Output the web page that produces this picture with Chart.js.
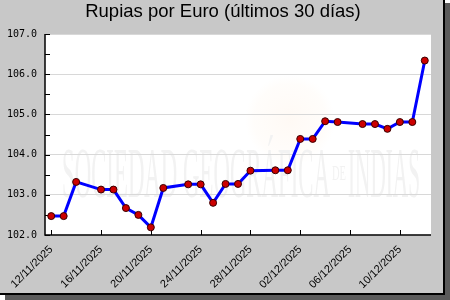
<!DOCTYPE html>
<html>
<head>
<meta charset="utf-8">
<script src="https://cdn.jsdelivr.net/npm/chart.js@4"></script>
<style>
html, body { margin: 0; padding: 0; background: #fff; }
#plot { display: block; }
</style>
</head>
<body>
<canvas id="plot" width="450" height="300"></canvas>
<script>
const titulo = 'Rupias por Euro (últimos 30 días)'

const fechas = [
    '12/11/2025', '13/11/2025', '14/11/2025', '16/11/2025', '17/11/2025', '18/11/2025',
    '19/11/2025', '20/11/2025', '21/11/2025', '23/11/2025', '24/11/2025', '25/11/2025',
    '26/11/2025', '27/11/2025', '28/11/2025', '30/11/2025', '01/12/2025', '02/12/2025',
    '03/12/2025', '04/12/2025', '05/12/2025', '07/12/2025', '08/12/2025', '09/12/2025',
    '10/12/2025', '11/12/2025', '12/12/2025'
]
const rupias = [
    102.47, 102.47, 103.32, 103.13, 103.13, 102.67,
    102.50, 102.19, 103.17, 103.26, 103.26, 102.80,
    103.27, 103.27, 103.60, 103.61, 103.61, 104.39,
    104.39, 104.83, 104.81, 104.76, 104.76, 104.64,
    104.81, 104.81, 106.34
]
const etiquetas = ['12/11/2025', '16/11/2025', '20/11/2025', '24/11/2025', '28/11/2025', '02/12/2025', '06/12/2025', '10/12/2025']
const yMin = 102
const yMax = 107

// dias desde la primera fecha
function dia (s) {
    const [d, m, y] = s.split('/').map(Number)
    const [d0, m0, y0] = fechas[0].split('/').map(Number)
    return (Date.UTC(y, m - 1, d) - Date.UTC(y0, m0 - 1, d0)) / 86400000
}

const marco = {
    id: 'marco',
    beforeDraw (chart) {
        const ctx = chart.ctx
        const a = chart.chartArea
        ctx.save()
        ctx.fillStyle = '#5a5a5a'
        ctx.fillRect(5, 3, 445, 297)
        ctx.fillStyle = '#c8c8c8'
        ctx.fillRect(0, 0, 443, 293)
        ctx.fillStyle = '#000'
        ctx.fillRect(443, 0, 2, 295)
        ctx.fillRect(0, 293, 445, 2)
        ctx.fillStyle = '#fff'
        ctx.fillRect(a.left, a.top, a.right - a.left, a.bottom - a.top)

        // marca de agua
        const g = ctx.createRadialGradient(290, 120, 0, 290, 120, 45)
        g.addColorStop(0, 'rgba(255,215,180,0.14)')
        g.addColorStop(0.8, 'rgba(255,225,195,0.08)')
        g.addColorStop(1, 'rgba(255,230,200,0)')
        ctx.fillStyle = g
        ctx.beginPath()
        ctx.arc(290, 120, 45, 0, Math.PI * 2)
        ctx.fill()

        ctx.fillStyle = '#f2f2f2'
        ctx.textBaseline = 'alphabetic'
        ctx.textAlign = 'left'
        const trozos = [
            ['SOCIEDAD GEOGRÁFICA', 62, 330, 72],
            ['DE', 332, 346, 22],
            ['INDIAS', 348, 420, 72]
        ]
        for (const [t, x0, x1, size] of trozos) {
            ctx.font = size + 'px "Liberation Serif"'
            const w = ctx.measureText(t).width
            ctx.save()
            ctx.translate(x0, size > 30 ? 197 : 180)
            ctx.scale((x1 - x0) / w, 1)
            ctx.fillText(t, 0, 0)
            ctx.restore()
        }

        // titulo
        ctx.fillStyle = '#000'
        ctx.font = '18.5px "Liberation Sans"'
        ctx.textAlign = 'center'
        ctx.fillText(titulo, 223, 17)
        ctx.restore()
    },
    beforeDatasetsDraw (chart) {
        const ctx = chart.ctx
        const a = chart.chartArea
        const xs = chart.scales.x
        const ys = chart.scales.y
        ctx.save()
        ctx.strokeStyle = '#000'
        ctx.lineWidth = 1.5
        ctx.beginPath()
        ctx.moveTo(a.left, a.top)
        ctx.lineTo(a.left, a.bottom)
        ctx.lineTo(a.right, a.bottom)
        ctx.stroke()
        ctx.lineWidth = 1
        ctx.beginPath()
        for (let v = yMin; v <= yMax; v += 0.5) {
            const py = Math.round(ys.getPixelForValue(v)) + 0.5
            ctx.moveTo(a.left, py)
            ctx.lineTo(a.left + 5, py)
        }
        for (const e of etiquetas) {
            const px = Math.round(xs.getPixelForValue(dia(e))) + 0.5
            ctx.moveTo(px, a.bottom)
            ctx.lineTo(px, a.bottom - 5)
        }
        ctx.stroke()
        ctx.restore()
    }
}

const config = {
    type: 'line',
    data: {
        datasets: [{
            data: fechas.map((f, i) => ({ x: dia(f), y: rupias[i] })),
            borderColor: '#0000ff',
            borderWidth: 3,
            tension: 0,
            pointRadius: 3.5,
            pointBackgroundColor: '#cc0000',
            pointBorderColor: '#3a0000',
            pointBorderWidth: 1,
            clip: false
        }]
    },
    options: {
        responsive: false,
        animation: false,
        events: [],
        layout: {
            padding: { top: 34, right: 19, left: 0, bottom: 0 }
        },
        plugins: {
            legend: { display: false },
            tooltip: { enabled: false },
            title: { display: false }
        },
        scales: {
            x: {
                type: 'linear',
                min: -0.5,
                max: 30.5,
                grid: { display: false, drawTicks: false },
                border: { display: false },
                afterBuildTicks: s => { s.ticks = etiquetas.map(e => ({ value: dia(e) })) },
                afterFit: s => { s.height = 65 },
                ticks: {
                    minRotation: 45,
                    maxRotation: 45,
                    padding: 8,
                    color: '#000',
                    font: { family: '"Liberation Sans"', size: 11 },
                    callback: (v, i) => etiquetas[i]
                }
            },
            y: {
                min: yMin,
                max: yMax,
                grid: { color: '#d8d8d8', drawTicks: false },
                border: { display: false },
                afterFit: s => { s.width = 45 },
                ticks: {
                    stepSize: 1,
                    padding: 8,
                    color: '#000',
                    font: { family: '"DejaVu Sans Mono"', size: 10 },
                    callback: v => v.toFixed(1)
                }
            }
        }
    },
    plugins: [marco]
}

const chart = new Chart(document.getElementById('plot'), config)
</script>
</body>
</html>
